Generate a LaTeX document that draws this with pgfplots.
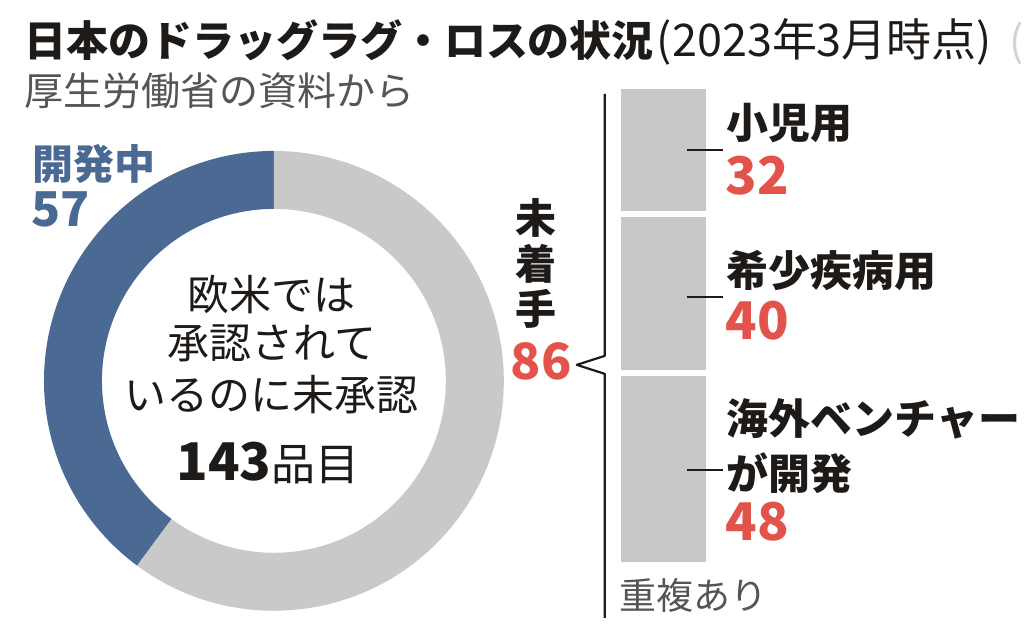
\documentclass[border=0pt]{standalone}
\usepackage{pgfplots}
\pgfplotsset{compat=1.18}
\usepackage{pgfplotstable}
\usepackage{fontspec}
\setmainfont{Noto Sans CJK JP}
\definecolor{cblue}{HTML}{4A6A93}
\definecolor{cring}{HTML}{C9C9C9}
\definecolor{cbar}{HTML}{C8C8C8}
\definecolor{cred}{HTML}{E2544B}
\definecolor{ctext}{HTML}{1E1A17}
\definecolor{cgray}{HTML}{555555}

\pgfplotstableread{
part value
dev 57
notyet 86
}\donut

\newcommand\fs[1]{\fontsize{#1}{#1}\selectfont}

\begin{document}
\begin{tikzpicture}
\pgfplotstablegetelem{0}{value}\of\donut \pgfmathsetmacro\va{\pgfplotsretval}
\pgfplotstablegetelem{1}{value}\of\donut \pgfmathsetmacro\vb{\pgfplotsretval}
\pgfmathsetmacro\frac{\va/(\va+\vb)}
\pgfmathsetmacro\aEnd{90+360*\frac}
\begin{axis}[at={(0,0)}, anchor=origin, width=1024pt, height=641pt, scale only axis,
  xmin=0, xmax=1024, ymin=0, ymax=641, hide axis, clip=false]
\path (axis cs:0,0) rectangle (axis cs:1024,641);
% donut
\fill[cblue] (axis cs:274,260) ++(90:230pt) arc[start angle=90,end angle=\aEnd,radius=230pt]
  -- ++(\aEnd:-58pt) arc[start angle=\aEnd,end angle=90,radius=172pt] -- cycle;
\fill[cring] (axis cs:274,260) ++(\aEnd:230pt) arc[start angle=\aEnd,end angle=450,radius=230pt]
  -- ++(90:-58pt) arc[start angle=450,end angle=\aEnd,radius=172pt] -- cycle;
% bracket line
\draw[ctext, line width=2.2pt, line join=round] (axis cs:605,547) -- (axis cs:605,285) -- (axis cs:577,276) -- (axis cs:605,267) -- (axis cs:605,23);
% title
\node[anchor=base west, inner sep=0, text=ctext] at (axis cs:24,584) {\fs{42}\bfseries 日本のドラッグラグ・ロスの状況\kern3pt\fs{45}\mdseries(2023年3月時点)};
\node[anchor=base west, inner sep=0, text=gray!35] at (axis cs:1010,584) {\fs{42}(};
\node[anchor=base west, inner sep=0, text=cgray] at (axis cs:24,535) {\fs{39}厚生労働省の資料から};
% left labels
\node[anchor=west, inner sep=0, text=cblue] at (axis cs:32,477) {\fs{41}\bfseries 開発中};
\node[anchor=west, inner sep=0, text=cblue] at (axis cs:31,431.5) {\fs{48}\bfseries 57};
% centre text
\node[anchor=center, inner sep=0, text=ctext] at (axis cs:272,346) {\fs{42}欧米では};
\node[anchor=center, inner sep=0, text=ctext] at (axis cs:272,297.5) {\fs{42}承認されて};
\node[anchor=center, inner sep=0, text=ctext] at (axis cs:272,246) {\fs{42}いるのに未承認};
\node[anchor=center, inner sep=0, text=ctext] at (axis cs:268,177.5) {\fs{52}\bfseries 143\fs{44}\mdseries 品目};
% not started
\node[anchor=center, inner sep=0, text=ctext] at (axis cs:536.5,422.5) {\fs{41}\bfseries 未};
\node[anchor=center, inner sep=0, text=ctext] at (axis cs:536.5,377) {\fs{41}\bfseries 着};
\node[anchor=center, inner sep=0, text=ctext] at (axis cs:536.5,332) {\fs{41}\bfseries 手};
\node[anchor=center, inner sep=0, text=cred] at (axis cs:541.5,279.5) {\fs{50}\bfseries 86};
% right labels
\node[anchor=west, inner sep=0, text=ctext] at (axis cs:727,518) {\fs{42}\bfseries 小児用};
\node[anchor=west, inner sep=0, text=cred] at (axis cs:726,465) {\fs{52}\bfseries 32};
\node[anchor=west, inner sep=0, text=ctext] at (axis cs:727,370.5) {\fs{42}\bfseries 希少疾病用};
\node[anchor=west, inner sep=0, text=cred] at (axis cs:726,320) {\fs{52}\bfseries 40};
\node[anchor=west, inner sep=0, text=ctext] at (axis cs:727,221.5) {\fs{42}\bfseries 海外ベンチャー};
\node[anchor=west, inner sep=0, text=ctext] at (axis cs:727,167.5) {\fs{42}\bfseries が開発};
\node[anchor=west, inner sep=0, text=cred] at (axis cs:726,119.5) {\fs{52}\bfseries 48};
\node[anchor=west, inner sep=0, text=cgray] at (axis cs:620,45) {\fs{37}重複あり};
\end{axis}
\begin{axis}[at={(618pt,76pt)}, anchor=origin, width=91pt, height=479pt, scale only axis,
  xmin=0, xmax=1, ymin=0, ymax=120, hide axis, clip=false,
  ybar stacked, bar width=1, bar shift=0pt]
\addplot[fill=cbar, draw=white, line width=6pt] coordinates {(0.5,48)};
\addplot[fill=cbar, draw=white, line width=6pt] coordinates {(0.5,40)};
\addplot[fill=cbar, draw=white, line width=6pt] coordinates {(0.5,32)};
\end{axis}
% overlay axis for leader ticks (drawn on top of the bars)
\begin{axis}[at={(0,0)}, anchor=origin, width=1024pt, height=641pt, scale only axis,
  xmin=0, xmax=1024, ymin=0, ymax=641, hide axis, clip=false]
\draw[ctext, line width=1.8pt] (axis cs:687,491) -- (axis cs:723,491);
\draw[ctext, line width=1.8pt] (axis cs:687,344) -- (axis cs:723,344);
\draw[ctext, line width=1.8pt] (axis cs:687,171) -- (axis cs:723,171);
\end{axis}
\end{tikzpicture}
\end{document}
